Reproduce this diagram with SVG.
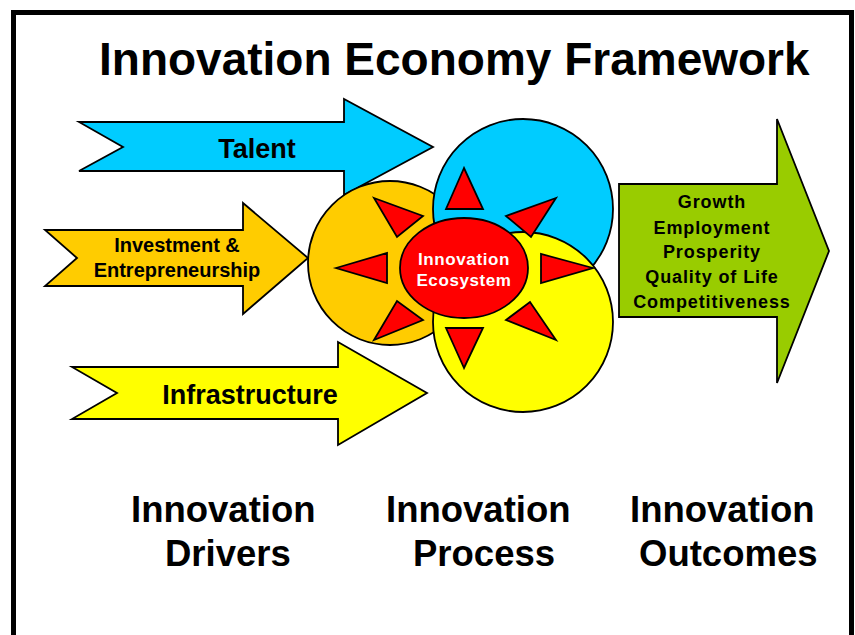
<svg xmlns="http://www.w3.org/2000/svg" width="855" height="635" viewBox="0 0 855 635">
  <style>
    .shape { stroke: #000; stroke-width: 1.8; stroke-linejoin: miter; }
    .blue { fill: #00CCFF; }
    .orange { fill: #FFCC00; }
    .yellow { fill: #FFFF00; }
    .green { fill: #99CC00; }
    .red { fill: #FF0000; }
    text { font-family: "Liberation Sans", Arial, Helvetica, sans-serif; font-weight: bold; fill: #000; }
    .title { font-size: 46px; }
    .big { font-size: 27px; text-anchor: middle; }
    .mid { font-size: 20px; text-anchor: middle; }
    .out { font-size: 18px; text-anchor: middle; letter-spacing: 0.9px; }
    .eco { font-size: 17px; text-anchor: middle; fill: #fff; letter-spacing: 0.6px; }
    .col { font-size: 36.5px; }
  </style>

  <rect width="855" height="635" fill="#fff"/>
  <!-- outer frame, open at the bottom of the page -->
  <rect x="13.5" y="12.5" width="838" height="700" fill="none" stroke="#000" stroke-width="5"/>

  <text class="title" x="99" y="75">Innovation Economy Framework</text>

  <!-- driver arrows -->
  <g id="talent">
    <polygon class="shape blue" points="79,122 344,122 344,99 433,147 344,195 344,171 79,171 123,147"/>
    <text class="big" x="257" y="158">Talent</text>
  </g>
  <g id="investment">
    <polygon class="shape orange" points="45,230 243,230 243,203 308,258 243,314 243,286 45,286 77,258"/>
    <text class="mid" x="177" y="252">Investment &amp;</text>
    <text class="mid" x="177" y="277">Entrepreneurship</text>
  </g>
  <g id="infrastructure">
    <polygon class="shape yellow" points="72,367 338,367 338,342 427,393 338,445 338,419 72,419 117,393"/>
    <text class="big" x="250" y="404">Infrastructure</text>
  </g>

  <!-- innovation process: overlapping circles -->
  <g id="process">
    <circle class="shape orange" cx="390" cy="263" r="82"/>
    <circle class="shape blue" cx="523" cy="209" r="90"/>
    <circle class="shape yellow" cx="523" cy="322" r="90"/>
  </g>

  <!-- outward pointing triangles around the ecosystem -->
  <g id="rays" class="shape red">
    <polygon class="shape red" points="464,168 446,209 483,209"/>
    <polygon class="shape red" points="556,198 506,216 531,237"/>
    <polygon class="shape red" points="593,268 541,254 541,283"/>
    <polygon class="shape red" points="556,340 506,320 530,302"/>
    <polygon class="shape red" points="464,368 446,328 483,328"/>
    <polygon class="shape red" points="374,340 423,320 397,301"/>
    <polygon class="shape red" points="336,268 387,253 387,283"/>
    <polygon class="shape red" points="374,198 423,216 397,237"/>
  </g>

  <g id="ecosystem">
    <ellipse class="shape red" cx="464" cy="268" rx="64" ry="50"/>
    <text class="eco" x="464" y="265">Innovation</text>
    <text class="eco" x="464" y="286">Ecosystem</text>
  </g>

  <!-- outcomes arrow -->
  <g id="outcomes">
    <polygon class="shape green" points="619,184 777,184 777,119 829,251 777,383 777,317 619,317"/>
    <text class="out" x="712" y="208">Growth</text>
    <text class="out" x="712" y="234">Employment</text>
    <text class="out" x="712" y="258">Prosperity</text>
    <text class="out" x="712" y="283">Quality of Life</text>
    <text class="out" x="712" y="308">Competitiveness</text>
  </g>

  <!-- column captions -->
  <g id="captions">
    <text class="col" x="131" y="522">Innovation</text>
    <text class="col" x="165" y="566">Drivers</text>
    <text class="col" x="386" y="522">Innovation</text>
    <text class="col" x="413" y="566">Process</text>
    <text class="col" x="630" y="522">Innovation</text>
    <text class="col" x="639" y="566">Outcomes</text>
  </g>
</svg>
